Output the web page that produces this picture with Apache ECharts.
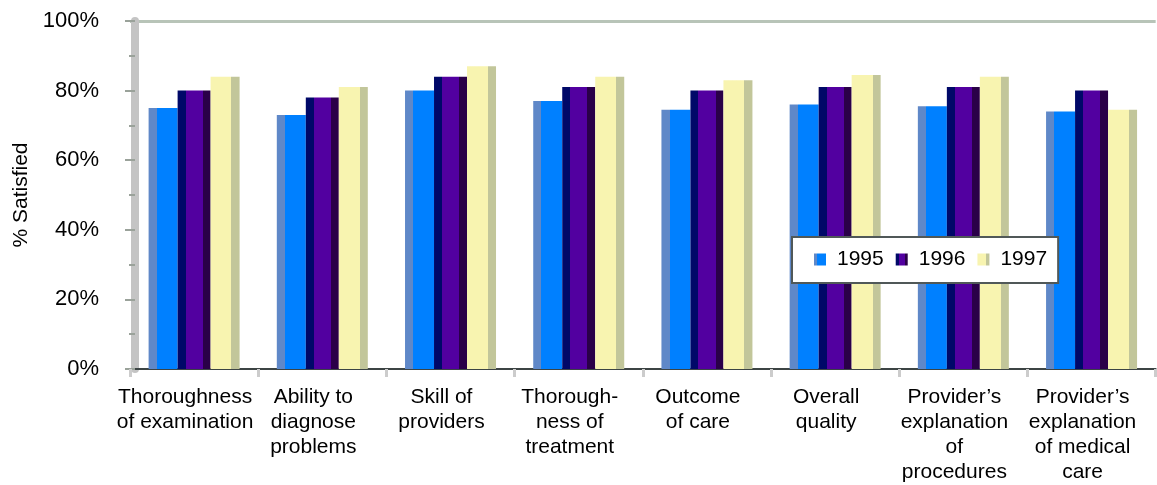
<!DOCTYPE html>
<html>
<head>
    <meta http-equiv="Content-Type" content="text/html; charset=utf-8" />
    <script src="https://cdn.jsdelivr.net/npm/echarts@6/dist/echarts.min.js"></script>
    <title></title>
    <style>
        body {
            margin: 0;
            background: #fff;
            overflow: hidden;
        }
    </style>
</head>
<body>
    <div id="main" style="width: 1157px; height: 485px;"></div>

    <script type="text/javascript">
        // data
        var categories = [
            'Thoroughness\nof examination',
            'Ability to\ndiagnose\nproblems',
            'Skill of\nproviders',
            'Thorough-\nness of\ntreatment',
            'Outcome\nof care',
            'Overall\nquality',
            'Provider\u2019s\nexplanation\nof\nprocedures',
            'Provider\u2019s\nexplanation\nof medical\ncare'
        ];
        var years = ['1995', '1996', '1997'];
        var data1995 = [75, 73, 80, 77, 74.5, 76, 75.5, 74];
        var data1996 = [80, 78, 84, 81, 80, 81, 81, 80];
        var data1997 = [84, 81, 87, 84, 83, 84.5, 84, 74.5];
        var yTicks = [0, 20, 40, 60, 80, 100];

        var font = "'Liberation Sans', Arial, sans-serif";

        // fake 3d side faces with hard gradient stops
        function faces(stops) {
            var list = [];
            for (var i = 0; i < stops.length; i++) {
                list.push({ offset: stops[i][0], color: stops[i][2] });
                list.push({ offset: stops[i][1], color: stops[i][2] });
            }
            return new echarts.graphic.LinearGradient(0, 0, 1, 0, list);
        }

        var myChart = echarts.init(document.getElementById('main'));

        var option = {
            animation: false,
            backgroundColor: '#fff',
            grid: {
                left: 130,
                right: -3,
                top: 21,
                bottom: 115,
                containLabel: false
            },
            legend: {
                data: years,
                left: 792,
                top: 237,
                orient: 'horizontal',
                itemWidth: 12,
                itemHeight: 12,
                itemGap: 12,
                padding: [12, 11, 13, 22],
                backgroundColor: '#fff',
                borderColor: '#505858',
                borderWidth: 2,
                borderRadius: 0,
                icon: 'rect',
                textStyle: {
                    fontFamily: font,
                    fontSize: 21,
                    color: '#000',
                    padding: [0, 0, 0, 6]
                }
            },
            xAxis: {
                type: 'category',
                data: categories,
                axisLine: {
                    lineStyle: { color: '#3c4444', width: 2 }
                },
                axisTick: {
                    show: true,
                    length: 8,
                    lineStyle: { color: '#cccccc', width: 3 }
                },
                axisLabel: {
                    interval: 0,
                    margin: 16,
                    fontFamily: font,
                    fontSize: 21,
                    lineHeight: 25,
                    color: '#000',
                    padding: [0, 18, 0, 0]
                }
            },
            yAxis: {
                type: 'value',
                min: yTicks[0],
                max: yTicks[yTicks.length - 1],
                interval: 20,
                offset: -5,
                name: '% Satisfied',
                nameLocation: 'middle',
                nameGap: 100,
                nameRotate: 90,
                nameTextStyle: {
                    fontFamily: font,
                    fontSize: 21,
                    color: '#000'
                },
                axisLine: {
                    show: true,
                    lineStyle: { color: '#c4c4c4', width: 8 }
                },
                axisTick: {
                    show: true,
                    length: 10,
                    lineStyle: { color: '#9aa29a', width: 2 }
                },
                minorTick: {
                    show: true,
                    splitNumber: 2,
                    length: 6,
                    lineStyle: { color: '#9aa29a', width: 2 }
                },
                axisLabel: {
                    margin: 36,
                    fontFamily: font,
                    fontSize: 22,
                    color: '#000',
                    formatter: '{value}%'
                },
                splitLine: {
                    show: true,
                    lineStyle: {
                        color: ['transparent', 'transparent', 'transparent', 'transparent', 'transparent', '#b8c4b8'],
                        width: 3
                    }
                }
            },
            series: [
                {
                    name: '1995',
                    type: 'bar',
                    data: data1995,
                    barWidth: 29,
                    barGap: '0%',
                    barCategoryGap: '28%',
                    itemStyle: {
                        color: faces([[0, 0.28, '#5f88c8'], [0.28, 1, '#0080ff']])
                    }
                },
                {
                    name: '1996',
                    type: 'bar',
                    data: data1996,
                    barWidth: 33,
                    barGap: '0%',
                    itemStyle: {
                        color: faces([[0, 0.24, '#000868'], [0.24, 0.76, '#5200a0'], [0.76, 1, '#2a0048']])
                    }
                },
                {
                    name: '1997',
                    type: 'bar',
                    data: data1997,
                    barWidth: 29,
                    barGap: '0%',
                    itemStyle: {
                        color: faces([[0, 0.72, '#f8f4b0'], [0.72, 1, '#c2c69a']])
                    }
                }
            ]
        };
        myChart.setOption(option);
    </script>
</body>
</html>
